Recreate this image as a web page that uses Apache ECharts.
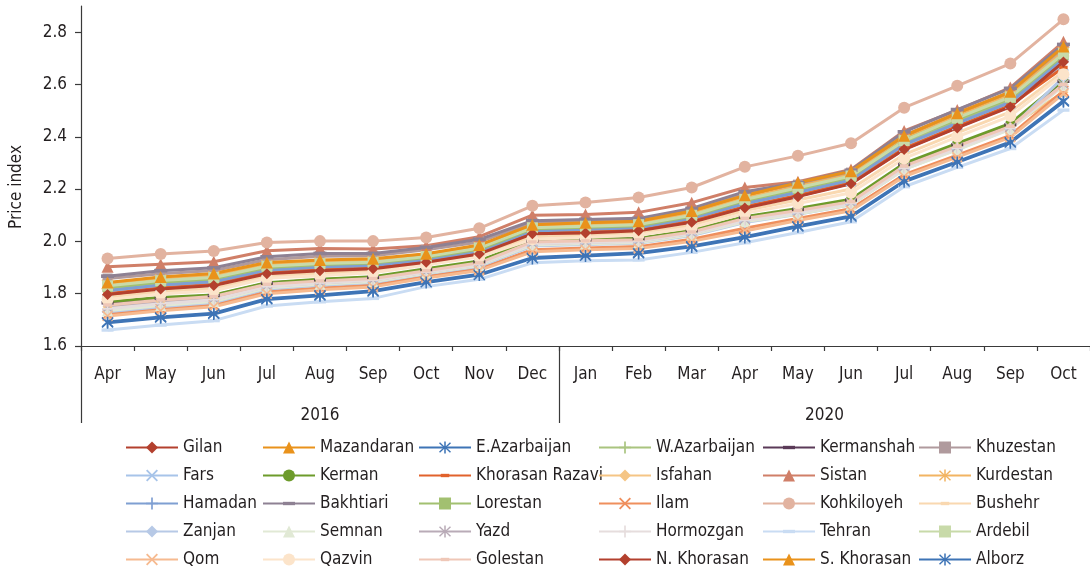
<!DOCTYPE html>
<html>
<head>
<meta charset="utf-8">
<script src="https://cdn.jsdelivr.net/npm/echarts@6/dist/echarts.min.js"></script>
<style>
html,body{margin:0;padding:0;background:#fff;}
#chart{width:1090px;height:571px;}
</style>
</head>
<body>
<div id="chart"></div>
<script>
const months2016 = ['Apr','May','Jun','Jul','Aug','Sep','Oct','Nov','Dec'];
const months2020 = ['Jan','Feb','Mar','Apr','May','Jun','Jul','Aug','Sep','Oct'];
const years = ['2016','2020'];
const yTicks = [1.6,1.8,2.0,2.2,2.4,2.6,2.8];

const gilan        = [1.795,1.820,1.833,1.878,1.890,1.897,1.922,1.954,2.031,2.034,2.043,2.075,2.130,2.173,2.222,2.353,2.436,2.517,2.689];
const mazandaran   = [1.840,1.862,1.875,1.916,1.926,1.931,1.950,1.983,2.062,2.069,2.075,2.113,2.173,2.222,2.266,2.400,2.487,2.568,2.741];
const eAzarbaijan  = [1.692,1.711,1.725,1.781,1.795,1.811,1.846,1.874,1.938,1.947,1.957,1.982,2.018,2.059,2.097,2.231,2.305,2.380,2.538];
const wAzarbaijan  = [1.818,1.840,1.852,1.895,1.907,1.912,1.934,1.966,2.044,2.050,2.056,2.092,2.150,2.195,2.240,2.378,2.460,2.540,2.705];
const kermanshah   = [1.765,1.782,1.793,1.840,1.853,1.862,1.892,1.922,2.002,2.006,2.010,2.040,2.092,2.122,2.158,2.294,2.370,2.446,2.612];
const khuzestan    = [1.858,1.876,1.889,1.930,1.943,1.945,1.968,1.998,2.072,2.077,2.082,2.120,2.183,2.217,2.263,2.405,2.490,2.572,2.735];
const fars         = [1.806,1.828,1.840,1.885,1.897,1.903,1.926,1.958,2.036,2.040,2.048,2.082,2.138,2.182,2.230,2.362,2.445,2.526,2.672];
const kerman       = [1.769,1.785,1.795,1.842,1.855,1.865,1.895,1.925,2.005,2.008,2.011,2.043,2.094,2.126,2.161,2.298,2.375,2.451,2.616];
const khorasanRaz  = [1.800,1.822,1.836,1.881,1.893,1.899,1.924,1.956,2.033,2.036,2.045,2.078,2.133,2.176,2.225,2.356,2.440,2.520,2.665];
const isfahan      = [1.750,1.770,1.783,1.830,1.844,1.854,1.885,1.915,1.994,1.999,2.003,2.033,2.085,2.115,2.150,2.285,2.362,2.438,2.570];
const sistan       = [1.903,1.913,1.922,1.964,1.973,1.971,1.983,2.018,2.100,2.103,2.111,2.148,2.206,2.228,2.275,2.422,2.502,2.588,2.763];
const kurdestan    = [1.835,1.855,1.868,1.910,1.920,1.925,1.945,1.978,2.055,2.062,2.068,2.105,2.165,2.210,2.255,2.390,2.478,2.558,2.725];
const hamadan      = [1.812,1.833,1.846,1.890,1.902,1.908,1.930,1.962,2.040,2.046,2.052,2.088,2.145,2.188,2.235,2.370,2.452,2.532,2.698];
const bakhtiari    = [1.867,1.888,1.899,1.941,1.954,1.954,1.977,2.008,2.079,2.084,2.088,2.126,2.190,2.224,2.272,2.419,2.504,2.585,2.753];
const lorestan     = [1.825,1.845,1.858,1.900,1.912,1.917,1.938,1.970,2.048,2.054,2.060,2.096,2.156,2.200,2.246,2.387,2.468,2.548,2.712];
const ilam         = [1.722,1.742,1.757,1.808,1.822,1.833,1.866,1.895,1.968,1.975,1.980,2.008,2.050,2.088,2.125,2.255,2.330,2.405,2.575];
const kohkiloyeh   = [1.935,1.952,1.963,1.996,2.001,2.001,2.015,2.050,2.136,2.149,2.168,2.206,2.285,2.327,2.375,2.511,2.595,2.680,2.849];
const bushehr      = [1.786,1.808,1.820,1.866,1.878,1.886,1.914,1.946,2.018,2.024,2.032,2.062,2.118,2.158,2.200,2.332,2.415,2.495,2.650];
const zanjan       = [1.731,1.750,1.766,1.818,1.832,1.843,1.876,1.905,1.982,1.988,1.993,2.022,2.072,2.104,2.140,2.276,2.352,2.430,2.628];
const semnan       = [1.735,1.755,1.770,1.822,1.836,1.846,1.878,1.908,1.986,1.991,1.995,2.025,2.075,2.105,2.140,2.275,2.350,2.428,2.595];
const yazd         = [1.745,1.765,1.779,1.828,1.842,1.852,1.883,1.913,1.992,1.997,2.001,2.031,2.083,2.113,2.148,2.283,2.360,2.436,2.600];
const hormozgan    = [1.742,1.762,1.777,1.827,1.841,1.851,1.882,1.912,1.991,1.996,2.000,2.030,2.080,2.110,2.145,2.280,2.356,2.432,2.598];
const tehran       = [1.661,1.680,1.697,1.753,1.769,1.782,1.827,1.855,1.918,1.926,1.929,1.958,1.995,2.034,2.075,2.209,2.283,2.355,2.502];
const ardebil      = [1.830,1.850,1.862,1.905,1.915,1.920,1.942,1.975,2.052,2.058,2.064,2.100,2.160,2.205,2.250,2.385,2.472,2.552,2.718];
const qom          = [1.715,1.735,1.750,1.800,1.815,1.826,1.860,1.889,1.960,1.968,1.973,2.000,2.040,2.080,2.117,2.248,2.322,2.398,2.565];
const qazvin       = [1.778,1.799,1.811,1.859,1.869,1.880,1.910,1.941,2.008,2.015,2.024,2.052,2.107,2.145,2.186,2.317,2.400,2.479,2.639];
const golestan     = [1.757,1.776,1.789,1.836,1.849,1.858,1.888,1.918,1.998,2.002,2.006,2.036,2.088,2.118,2.152,2.288,2.364,2.440,2.600];
const nKhorasan    = [1.797,1.818,1.831,1.876,1.888,1.895,1.920,1.952,2.029,2.032,2.041,2.073,2.128,2.171,2.220,2.351,2.434,2.514,2.686];
const sKhorasan    = [1.843,1.864,1.877,1.919,1.929,1.934,1.953,1.986,2.064,2.071,2.077,2.116,2.176,2.224,2.268,2.404,2.490,2.572,2.745];
const alborz       = [1.689,1.708,1.722,1.778,1.792,1.808,1.843,1.871,1.935,1.944,1.954,1.979,2.015,2.056,2.094,2.228,2.302,2.377,2.534];

const categories = months2016.concat(months2020);

const PLUS  = 'path://M4.3,0H5.7V4.3H10V5.7H5.7V10H4.3V5.7H0V4.3H4.3Z';
const CROSS = 'path://M1.1,0L5,3.9L8.9,0L10,1.1L6.1,5L10,8.9L8.9,10L5,6.1L1.1,10L0,8.9L3.9,5L0,1.1Z';
const STAR  = 'path://M4.4,0H5.6V3.9L8.9,0.6L9.7,1.4L6.1,5L9.7,8.6L8.9,9.4L5.6,6.1V10H4.4V6.1L1.1,9.4L0.3,8.6L3.9,5L0.3,1.4L1.1,0.6L4.4,3.9Z';
const DASH  = 'path://M0,0M10,10M0,3.6H10V6.4H0Z';
const DASHS = 'path://M0,0M10,10M1.5,3.6H8.5V6.4H1.5Z';

const FONT = "'DejaVu Sans Condensed','DejaVu Sans',sans-serif";
const STRETCH = 'condensed';
const TXT = '#231f20';
const AXIS = '#3a3a3a';

const seriesDefs = [
  ['Gilan', gilan, '#b3402e', 'diamond', 11],
  ['Mazandaran', mazandaran, '#e9921b', 'triangle', 12],
  ['E.Azarbaijan', eAzarbaijan, '#3e74b6', STAR, 12],
  ['W.Azarbaijan', wAzarbaijan, '#a9c47f', PLUS, 11],
  ['Kermanshah', kermanshah, '#5b3a58', DASH, 12],
  ['Khuzestan', khuzestan, '#b09a9d', 'rect', 10],
  ['Fars', fars, '#a7c4e9', CROSS, 11],
  ['Kerman', kerman, '#6d9b2b', 'circle', 10],
  ['Khorasan Razavi', khorasanRaz, '#e1622c', DASHS, 12],
  ['Isfahan', isfahan, '#f5c585', 'diamond', 10],
  ['Sistan', sistan, '#d07f68', 'triangle', 12],
  ['Kurdestan', kurdestan, '#f2b462', STAR, 12],
  ['Hamadan', hamadan, '#7f9fd2', PLUS, 11],
  ['Bakhtiari', bakhtiari, '#8e8193', DASH, 13],
  ['Lorestan', lorestan, '#a2c070', 'rect', 10],
  ['Ilam', ilam, '#ef8f5d', CROSS, 11],
  ['Kohkiloyeh', kohkiloyeh, '#e2b3a0', 'circle', 12],
  ['Bushehr', bushehr, '#f9d8b0', DASHS, 12],
  ['Zanjan', zanjan, '#b7c9e6', 'diamond', 12],
  ['Semnan', semnan, '#e1e9d5', 'triangle', 11],
  ['Yazd', yazd, '#b9abb7', STAR, 11],
  ['Hormozgan', hormozgan, '#e6dddd', PLUS, 11],
  ['Tehran', tehran, '#c9dcf3', DASH, 12],
  ['Ardebil', ardebil, '#c8daa9', 'rect', 11],
  ['Qom', qom, '#f6ba90', CROSS, 11],
  ['Qazvin', qazvin, '#fce4ca', 'circle', 12],
  ['Golestan', golestan, '#efc7b7', DASHS, 12],
  ['N. Khorasan', nKhorasan, '#b3402e', 'diamond', 11],
  ['S. Khorasan', sKhorasan, '#e9921b', 'triangle', 12],
  ['Alborz', alborz, '#3e74b6', STAR, 12]
];

const series = seriesDefs.map(d => ({
  name: d[0], type: 'line', data: d[1],
  xAxisIndex: 0, yAxisIndex: 0,
  symbol: d[3], symbolSize: d[4], showSymbol: true,
  lineStyle: {color: d[2], width: 3},
  itemStyle: {color: d[2], borderWidth: 0},
  emphasis: {disabled: true},
  animation: false, z: 2
}));

const nCols = 6;
const colLeft = [125, 262, 418, 598, 762, 918];
const legends = colLeft.map((left, c) => ({
  orient: 'vertical',
  left: left, top: 439,
  height: 132,
  padding: 0,
  itemWidth: 52, itemHeight: 15, itemGap: 11,
  selectedMode: false,
  textStyle: {fontFamily: FONT, fontStyle: STRETCH, fontSize: 17, color: TXT, lineHeight: 17, padding: 0},
  data: seriesDefs.filter((d, i) => i % nCols === c).map(d => d[0])
}));

const yearCentres = [months2016.length / 2, months2016.length + months2020.length / 2];
const separators = [0, months2016.length];

const option = {
  backgroundColor: '#fff',
  animation: false,
  grid: {left: 77, right: 0, top: 6, bottom: 225, containLabel: false},
  legend: legends,
  xAxis: [
    {
      type: 'category', data: categories, position: 'bottom', boundaryGap: true,
      axisLine: {show: true, onZero: false, lineStyle: {color: AXIS, width: 1.2}},
      axisTick: {show: true, length: 5, lineStyle: {color: AXIS, width: 1.2}},
      axisLabel: {show: true, interval: 0, margin: 20, fontFamily: FONT, fontStyle: STRETCH, fontSize: 17, color: TXT}
    },
    {
      type: 'value', position: 'bottom', min: 0, max: categories.length,
      axisLine: {show: false}, splitLine: {show: false},
      axisTick: {show: true, length: 77, customValues: separators,
                 lineStyle: {color: AXIS, width: 1.2}},
      axisLabel: {show: false}
    },
    {
      type: 'value', position: 'bottom', min: 0, max: categories.length,
      axisLine: {show: false}, axisTick: {show: false}, splitLine: {show: false},
      axisLabel: {
        show: true, margin: 61, fontFamily: FONT, fontStyle: STRETCH, fontSize: 17, color: TXT,
        customValues: yearCentres,
        formatter: (v) => { const k = yearCentres.indexOf(v); return k >= 0 ? years[k] : ''; }
      }
    }
  ],
  yAxis: [{
    type: 'value', min: 1.6, max: 2.9,
    name: 'Price index', nameLocation: 'middle', nameGap: 56, nameRotate: 90,
    nameTextStyle: {fontFamily: FONT, fontStyle: STRETCH, fontSize: 17, color: TXT, padding: [0, 22, 0, 0]},
    axisLine: {show: true, lineStyle: {color: AXIS, width: 1.2}},
    axisTick: {show: true, length: 6, customValues: yTicks, lineStyle: {color: AXIS, width: 1.2}},
    axisLabel: {show: true, margin: 14, fontFamily: FONT, fontStyle: STRETCH, fontSize: 17, color: TXT,
      customValues: yTicks, formatter: (v) => v.toFixed(1)},
    splitLine: {show: false}
  }],
  series: series
};

const chart = echarts.init(document.getElementById('chart'), null, {renderer: 'canvas'});
chart.setOption(option);
</script>
</body>
</html>
